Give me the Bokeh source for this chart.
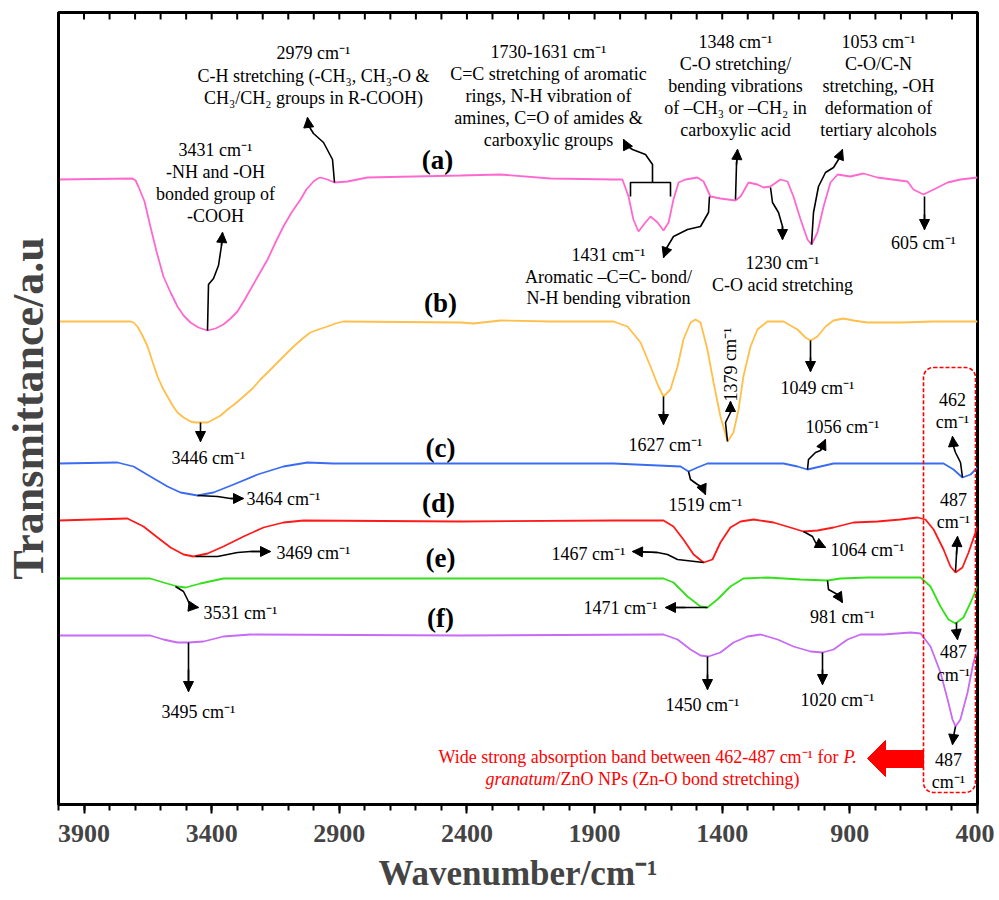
from bokeh.plotting import figure
from bokeh.models import (Range1d, FixedTicker, Arrow, NormalHead,
                          BoxAnnotation, PolyAnnotation)
from bokeh.core.properties import value
from bokeh.embed import file_html
from bokeh.resources import INLINE

# ---------------- data (wavenumber cm-1, transmittance a.u.) ----------------
wn_a = [4000, 3710, 3698, 3687, 3663, 3640, 3616, 3589, 3561, 3534, 3510, 3483, 3452, 3416, 3385,
        3354, 3326, 3299, 3275, 3248, 3217, 3181, 3150, 3119, 3087, 3052, 3029, 3001, 2985, 2974,
        2946, 2919, 2868, 2790, 2425, 2269, 2073, 1826, 1791, 1767, 1748, 1728, 1701, 1681,
        1653, 1630, 1610, 1591, 1571, 1544, 1497, 1473, 1446, 1407, 1348, 1328, 1297, 1262, 1238,
        1211, 1172, 1144, 1121, 1093, 1066, 1050, 1027, 1003, 976, 948, 898, 847, 792, 674, 651,
        612, 572, 517, 467, 400]
t_a = [625, 626, 624, 618, 603, 578, 553, 528, 512, 498, 489, 482, 477, 474, 476,
       480, 486, 493, 503, 515, 529, 545, 562, 578, 592, 605, 615, 623, 626, 627,
       625, 622, 623, 627, 629, 630, 626, 625, 625, 608, 585, 573, 582, 588,
       582, 574, 582, 605, 622, 625, 627, 623, 608, 606, 604, 608, 622, 620, 617,
       618, 625, 623, 608, 585, 565, 560, 572, 598, 622, 630, 628, 631, 627, 623, 615,
       610, 615, 622, 625, 627]

wn_b = [4000, 3718, 3706, 3691, 3671, 3651, 3632, 3612, 3593, 3573, 3553, 3534, 3510, 3483, 3463,
        3436, 3416, 3393, 3365, 3338, 3307, 3275, 3240, 3209, 3177, 3142, 3111, 3079, 3044, 3013,
        2982, 2946, 2915, 2884, 2425, 2374, 2269, 2073, 1826, 1771, 1720, 1681, 1650, 1630, 1603,
        1575, 1552, 1524, 1505, 1485, 1458, 1434, 1407, 1379, 1356, 1336, 1317, 1289, 1262, 1223,
        1160, 1105, 1074, 1054, 1027, 995, 964, 925, 886, 831, 702, 572, 400]
t_b = [483, 483, 482, 478, 469, 458, 443, 428, 417, 408, 399, 392, 387, 383, 382,
       382, 382, 385, 389, 395, 401, 408, 416, 425, 433, 442, 450, 458, 466, 472,
       475, 478, 481, 483, 482, 481, 484, 483, 483, 478, 462, 438, 418, 408, 415,
       438, 465, 482, 485, 482, 455, 422, 388, 363, 372, 395, 428, 458, 475, 483,
       483, 475, 467, 464, 468, 478, 484, 486, 484, 482, 482, 483, 483]

wn_c = [4000, 3769, 3706, 3640, 3573, 3522, 3455, 3393, 3314, 3220, 3119, 3025, 2923, 2425, 1826,
        1563, 1532, 1497, 1458, 1160, 1105, 1066, 1015, 964, 533, 494, 459, 427, 400]
t_c = [341, 342, 338, 328, 318, 312, 309, 312, 320, 330, 338, 342, 341, 341, 341,
       338, 333, 337, 341, 341, 338, 335, 338, 341, 341, 335, 327, 330, 337]

wn_d = [4000, 3730, 3667, 3612, 3561, 3510, 3471, 3416, 3354, 3275, 3197, 3119, 3040, 2425, 1826,
        1630, 1591, 1552, 1512, 1473, 1438, 1407, 1368, 1328, 1277, 1199, 1133, 1082, 1027, 964,
        886, 792, 702, 635, 604, 572, 533, 506, 486, 459, 435, 408, 400]
t_d = [284, 286, 278, 267, 257, 250, 248, 251, 258, 268, 277, 282, 284, 283, 284,
       284, 278, 265, 250, 242, 245, 262, 277, 283, 285, 282, 277, 273, 274, 277,
       282, 283, 285, 287, 285, 275, 255, 238, 232, 237, 252, 272, 278]

wn_e = [4000, 3640, 3589, 3534, 3502, 3444, 3354, 2425, 1630, 1591, 1536, 1485, 1458, 1419, 1368,
        1317, 1223, 1093, 988, 937, 831, 623, 584, 545, 514, 486, 455, 427, 400]
t_e = [226, 226, 222, 218, 217, 221, 226, 226, 226, 222, 208, 198, 197, 205, 218,
       226, 227, 225, 224, 226, 227, 227, 218, 198, 185, 181, 187, 202, 218]

wn_f = [4000, 3640, 3589, 3534, 3491, 3432, 3354, 3248, 2425, 1630, 1575, 1524, 1485, 1454, 1407,
        1356, 1301, 1250, 1183, 1121, 1054, 1007, 964, 909, 858, 768, 662, 623, 584, 545,
        517, 498, 486, 467, 439, 416, 400]
t_f = [169, 169, 165, 162, 162, 163, 168, 170, 169, 170, 165, 155, 149, 148, 152,
       162, 168, 170, 165, 158, 153, 152, 155, 165, 170, 170, 172, 171, 158, 132,
       105, 85, 78, 85, 112, 142, 155]

series = [("(a)", wn_a, t_a, "#ff69cf"), ("(b)", wn_b, t_b, "#ffbf4a"),
          ("(c)", wn_c, t_c, "#3a6cf2"), ("(d)", wn_d, t_d, "#ff1a1a"),
          ("(e)", wn_e, t_e, "#33e01a"), ("(f)", wn_f, t_f, "#c76af5")]

major_ticks = [3900, 3400, 2900, 2400, 1900, 1400, 900, 400]
minor_ticks = list(range(400, 4001, 100))

# ---------------- layout helpers (reference pixel -> data) ----------------
def X(px):
    return 4000 - (px - 58) * 3600 / 919

def Y(py):
    return 805 - py

FONT = value("Liberation Serif")

p = figure(frame_width=919, frame_height=792, x_range=Range1d(4000, 400), y_range=Range1d(0, 792),
           output_backend="svg", toolbar_location=None,
           min_border_left=57, min_border_right=17, min_border_top=12, min_border_bottom=80)
p.xgrid.visible = False
p.ygrid.visible = False
p.outline_line_color = "black"
p.outline_line_width = 3
p.background_fill_color = "white"

xa = p.xaxis[0]
xa.ticker = FixedTicker(ticks=major_ticks, minor_ticks=minor_ticks)
xa.axis_label = "Wavenumber/cm⁻¹"
xa.axis_label_text_font = "Liberation Serif"
xa.axis_label_text_font_size = "35px"
xa.axis_label_text_font_style = "bold"
xa.axis_label_standoff = 9
xa.major_label_text_font = "Liberation Serif"
xa.major_label_text_font_size = "26px"
xa.major_label_text_font_style = "bold"
xa.major_label_standoff = 11
xa.major_tick_out = 9
xa.major_tick_in = 0
xa.minor_tick_out = 6
xa.minor_tick_in = 0
xa.axis_line_width = 3
xa.major_tick_line_width = 2
xa.minor_tick_line_width = 2

ya = p.yaxis[0]
ya.axis_label = "Transmittance/a.u"
ya.axis_label_text_font = "Liberation Serif"
ya.axis_label_text_font_size = "44px"
ya.axis_label_text_font_style = "bold"
ya.axis_label_standoff = 6
ya.major_tick_out = 0
ya.major_tick_in = 0
ya.minor_tick_out = 0
ya.minor_tick_in = 0
ya.axis_line_width = 3
ya.ticker = FixedTicker(ticks=[])

# inward ticks along the top edge
p.segment(x0=minor_ticks, y0=[792] * len(minor_ticks), x1=minor_ticks,
          y1=[785] * len(minor_ticks), line_color="black", line_width=2)

# spectra
for name, wn, t, col in series:
    p.line(wn, t, line_color=col, line_width=1.8)

# sample labels
lab_pos = {"(a)": (437, 160), "(b)": (440, 303), "(c)": (440, 448),
           "(d)": (438, 503), "(e)": (440, 558), "(f)": (440, 618)}
p.text(x=[X(v[0]) for v in lab_pos.values()], y=[Y(v[1]) for v in lab_pos.values()],
       text=list(lab_pos.keys()), text_font=FONT, text_font_size="27px",
       text_font_style="bold", text_align="center", text_baseline="middle", text_color="black")

# annotation texts (reference pixel centres)
notes = [
    (313, 53, "2979 cm⁻¹"), (313, 76, "C-H stretching (-CH₃, CH₃-O &"), (313, 98, "CH₃/CH₂ groups in R-COOH)"),
    (215, 150, "3431 cm⁻¹"), (215, 172, "-NH and -OH"), (215, 194, "bonded group of"), (215, 216, "-COOH"),
    (548, 52, "1730-1631 cm⁻¹"), (548, 74, "C=C stretching of aromatic"), (548, 96, "rings, N-H vibration of"),
    (548, 118, "amines, C=O of amides &"), (548, 140, "carboxylic groups"),
    (735, 42, "1348 cm⁻¹"), (735, 64, "C-O stretching/"), (735, 86, "bending vibrations"),
    (735, 108, "of –CH₃ or –CH₂ in"), (735, 130, "carboxylic acid"),
    (878, 42, "1053 cm⁻¹"), (878, 64, "C-O/C-N"), (878, 86, "stretching, -OH"),
    (878, 108, "deformation of"), (878, 130, "tertiary alcohols"),
    (608, 255, "1431 cm⁻¹"), (608, 277, "Aromatic –C=C- bond/"), (608, 298, "N-H bending vibration"),
    (782, 263, "1230 cm⁻¹"), (782, 285, "C-O acid stretching"),
    (923, 243, "605 cm⁻¹"),
    (208, 458, "3446 cm⁻¹"), (665, 445, "1627 cm⁻¹"), (817, 388, "1049 cm⁻¹"),
    (283, 499, "3464 cm⁻¹"), (705, 505, "1519 cm⁻¹"), (842, 427, "1056 cm⁻¹"),
    (952, 400, "462"), (952, 422, "cm⁻¹"),
    (313, 553, "3469 cm⁻¹"), (588, 554, "1467 cm⁻¹"), (867, 550, "1064 cm⁻¹"),
    (953, 500, "487"), (953, 522, "cm⁻¹"),
    (240, 613, "3531 cm⁻¹"), (620, 608, "1471 cm⁻¹"), (842, 617, "981 cm⁻¹"),
    (953, 652, "487"), (953, 675, "cm⁻¹"),
    (198, 712, "3495 cm⁻¹"), (702, 705, "1450 cm⁻¹"), (837, 700, "1020 cm⁻¹"),
    (948, 760, "487"), (948, 782, "cm⁻¹"),
]
p.text(x=[X(n[0]) for n in notes], y=[Y(n[1]) for n in notes], text=[n[2] for n in notes],
       text_font=FONT, text_font_size="18px", text_align="center", text_baseline="middle",
       text_color="black")
# rotated 1379 label
p.text(x=[X(730)], y=[Y(365)], text=["1379 cm⁻¹"], angle=1.5708, text_font=FONT,
       text_font_size="18px", text_align="center", text_baseline="middle", text_color="black")

# leader arrows (reference pixels, last point = tip)
paths = [
    [(334, 183), (332, 160), (323, 143), (313, 134), (308, 126), (307, 118)],
    [(207, 331), (208, 285), (213, 279), (218, 266), (221, 246), (222, 233)],
    [(652, 183), (652, 165), (645, 155), (632, 150), (626, 146), (623, 140)],
    [(735, 200), (736, 165), (737, 150)],
    [(811, 245), (813, 213), (818, 187), (825, 173), (833, 168), (838, 160), (842, 150)],
    [(709, 197), (708, 213), (700, 227), (687, 230), (673, 237), (667, 247), (663, 258)],
    [(770, 188), (772, 203), (778, 213), (782, 227), (782, 240)],
    [(924, 197), (924, 215), (924, 230)],
    [(200, 423), (200, 432), (200, 442)],
    [(663, 397), (663, 412), (663, 425)],
    [(727, 442), (725, 423), (730, 413), (730, 402)],
    [(810, 341), (810, 358), (810, 372)],
    [(807, 470), (808, 460), (815, 453), (820, 451), (825, 440)],
    [(688, 472), (690, 480), (697, 485), (702, 488), (705, 495)],
    [(962, 478), (960, 463), (955, 453), (953, 447), (952, 437)],
    [(197, 496), (217, 497), (230, 499), (243, 499)],
    [(195, 557), (217, 557), (237, 553), (250, 552), (270, 552)],
    [(703, 563), (677, 560), (667, 555), (657, 553), (632, 552)],
    [(803, 532), (812, 537), (815, 543), (825, 548)],
    [(955, 572), (956, 555), (957, 537)],
    [(175, 587), (183, 592), (187, 600), (190, 607), (198, 608)],
    [(707, 608), (685, 608), (665, 608)],
    [(827, 581), (828, 590), (837, 595), (842, 603)],
    [(956, 623), (956, 632), (957, 640)],
    [(188, 643), (188, 670), (188, 692)],
    [(707, 657), (707, 675), (707, 690)],
    [(822, 653), (822, 670), (822, 685)],
    [(955, 727), (953, 737), (952, 745)],
]
p.multi_line(xs=[[X(a) for a, b in pth] for pth in paths], ys=[[Y(b) for a, b in pth] for pth in paths],
             line_color="black", line_width=1.6)
for pth in paths:
    (x0, y0), (x1, y1) = pth[-2], pth[-1]
    p.add_layout(Arrow(end=NormalHead(size=10, fill_color="black", line_color="black", line_width=1),
                       x_start=X(x0), y_start=Y(y0), x_end=X(x1), y_end=Y(y1),
                       line_color="black", line_width=1.6))

# bracket over the 1730-1631 doublet
p.multi_line(xs=[[X(630), X(630), X(670), X(670)]], ys=[[Y(197), Y(183), Y(183), Y(197)]],
             line_color="black", line_width=1.6)

# red dashed region box
p.add_layout(BoxAnnotation(left=X(923), right=X(975), top=Y(368), bottom=Y(793),
                           fill_alpha=0, line_color="red", line_alpha=1, line_dash="4 2",
                           line_width=1.6, border_radius=10))
# big red arrow
arr_x = [867, 885, 885, 923, 923, 885, 885]
arr_y = [759, 741, 751, 751, 768, 768, 777]
p.add_layout(PolyAnnotation(xs=[X(v) for v in arr_x], ys=[Y(v) for v in arr_y],
                            fill_color="red", fill_alpha=1, line_color="red", line_alpha=1,
                            line_width=1))

# red note
p.text(x=[X(838)], y=[Y(757)], text=["Wide strong absorption band between 462-487 cm⁻¹ for"],
       text_font=FONT, text_font_size="18px", text_align="right", text_baseline="middle", text_color="red")
p.text(x=[X(843)], y=[Y(757)], text=["P."], text_font=FONT, text_font_size="18px",
       text_font_style="italic", text_align="left", text_baseline="middle", text_color="red")
p.text(x=[X(555)], y=[Y(779)], text=["granatum"], text_font=FONT, text_font_size="18px",
       text_font_style="italic", text_align="right", text_baseline="middle", text_color="red")
p.text(x=[X(555)], y=[Y(779)], text=["/ZnO NPs (Zn-O bond stretching)"], text_font=FONT,
       text_font_size="18px", text_align="left", text_baseline="middle", text_color="red")

open("out.html", "w").write(file_html(p, INLINE))
